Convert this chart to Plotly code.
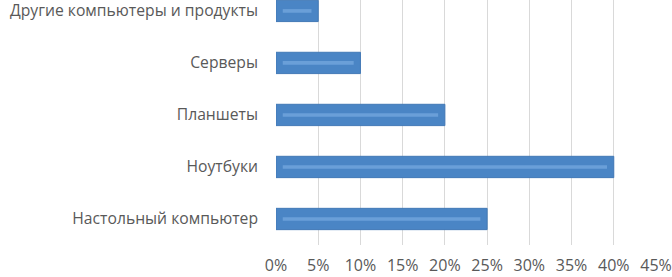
import plotly.graph_objects as go

categories = ["Настольный компьютер", "Ноутбуки", "Планшеты", "Серверы",
              "Другие компьютеры и продукты"]
values = [25, 40, 20, 10, 5]
tick_vals = [0, 5, 10, 15, 20, 25, 30, 35, 40, 45]
tick_text = [f"{v}%" for v in tick_vals]

inset = 0.8
fig = go.Figure()
fig.add_trace(go.Bar(
    y=categories, x=values, orientation="h", width=0.41,
    marker=dict(color="#4a85c5", line=dict(width=1, color="#4279b6")),
    text=[f"{v}%" for v in values], textposition="outside",
    textfont=dict(color="white", size=14),
    cliponaxis=False, showlegend=False,
))
fig.add_trace(go.Bar(
    y=categories, x=[v - 2 * inset for v in values], base=inset,
    orientation="h", width=0.07,
    marker=dict(color="#6a9fd8", line=dict(width=0)),
    showlegend=False, hoverinfo="skip",
))
fig.update_layout(
    barmode="overlay",
    width=672, height=277,
    margin=dict(l=276, r=16, t=0, b=32),
    paper_bgcolor="white", plot_bgcolor="white",
    font=dict(family="Open Sans", size=16, color="#595959"),
    xaxis=dict(range=[0, 45], tickvals=tick_vals, ticktext=tick_text,
               showgrid=True, gridcolor="#d9d9d9", gridwidth=1,
               zeroline=False, showline=False, ticks="", ticklabelstandoff=9,
               automargin=False),
    yaxis=dict(categoryorder="array", categoryarray=categories,
               range=[-0.5, 4.21], showgrid=False, zeroline=False,
               showline=False, ticks="", ticklabelstandoff=17,
               tickfont=dict(size=15.7), automargin=False),
)
fig.write_html("out.html", config={"displayModeBar": False},
               post_script="document.body.style.margin='0';")
